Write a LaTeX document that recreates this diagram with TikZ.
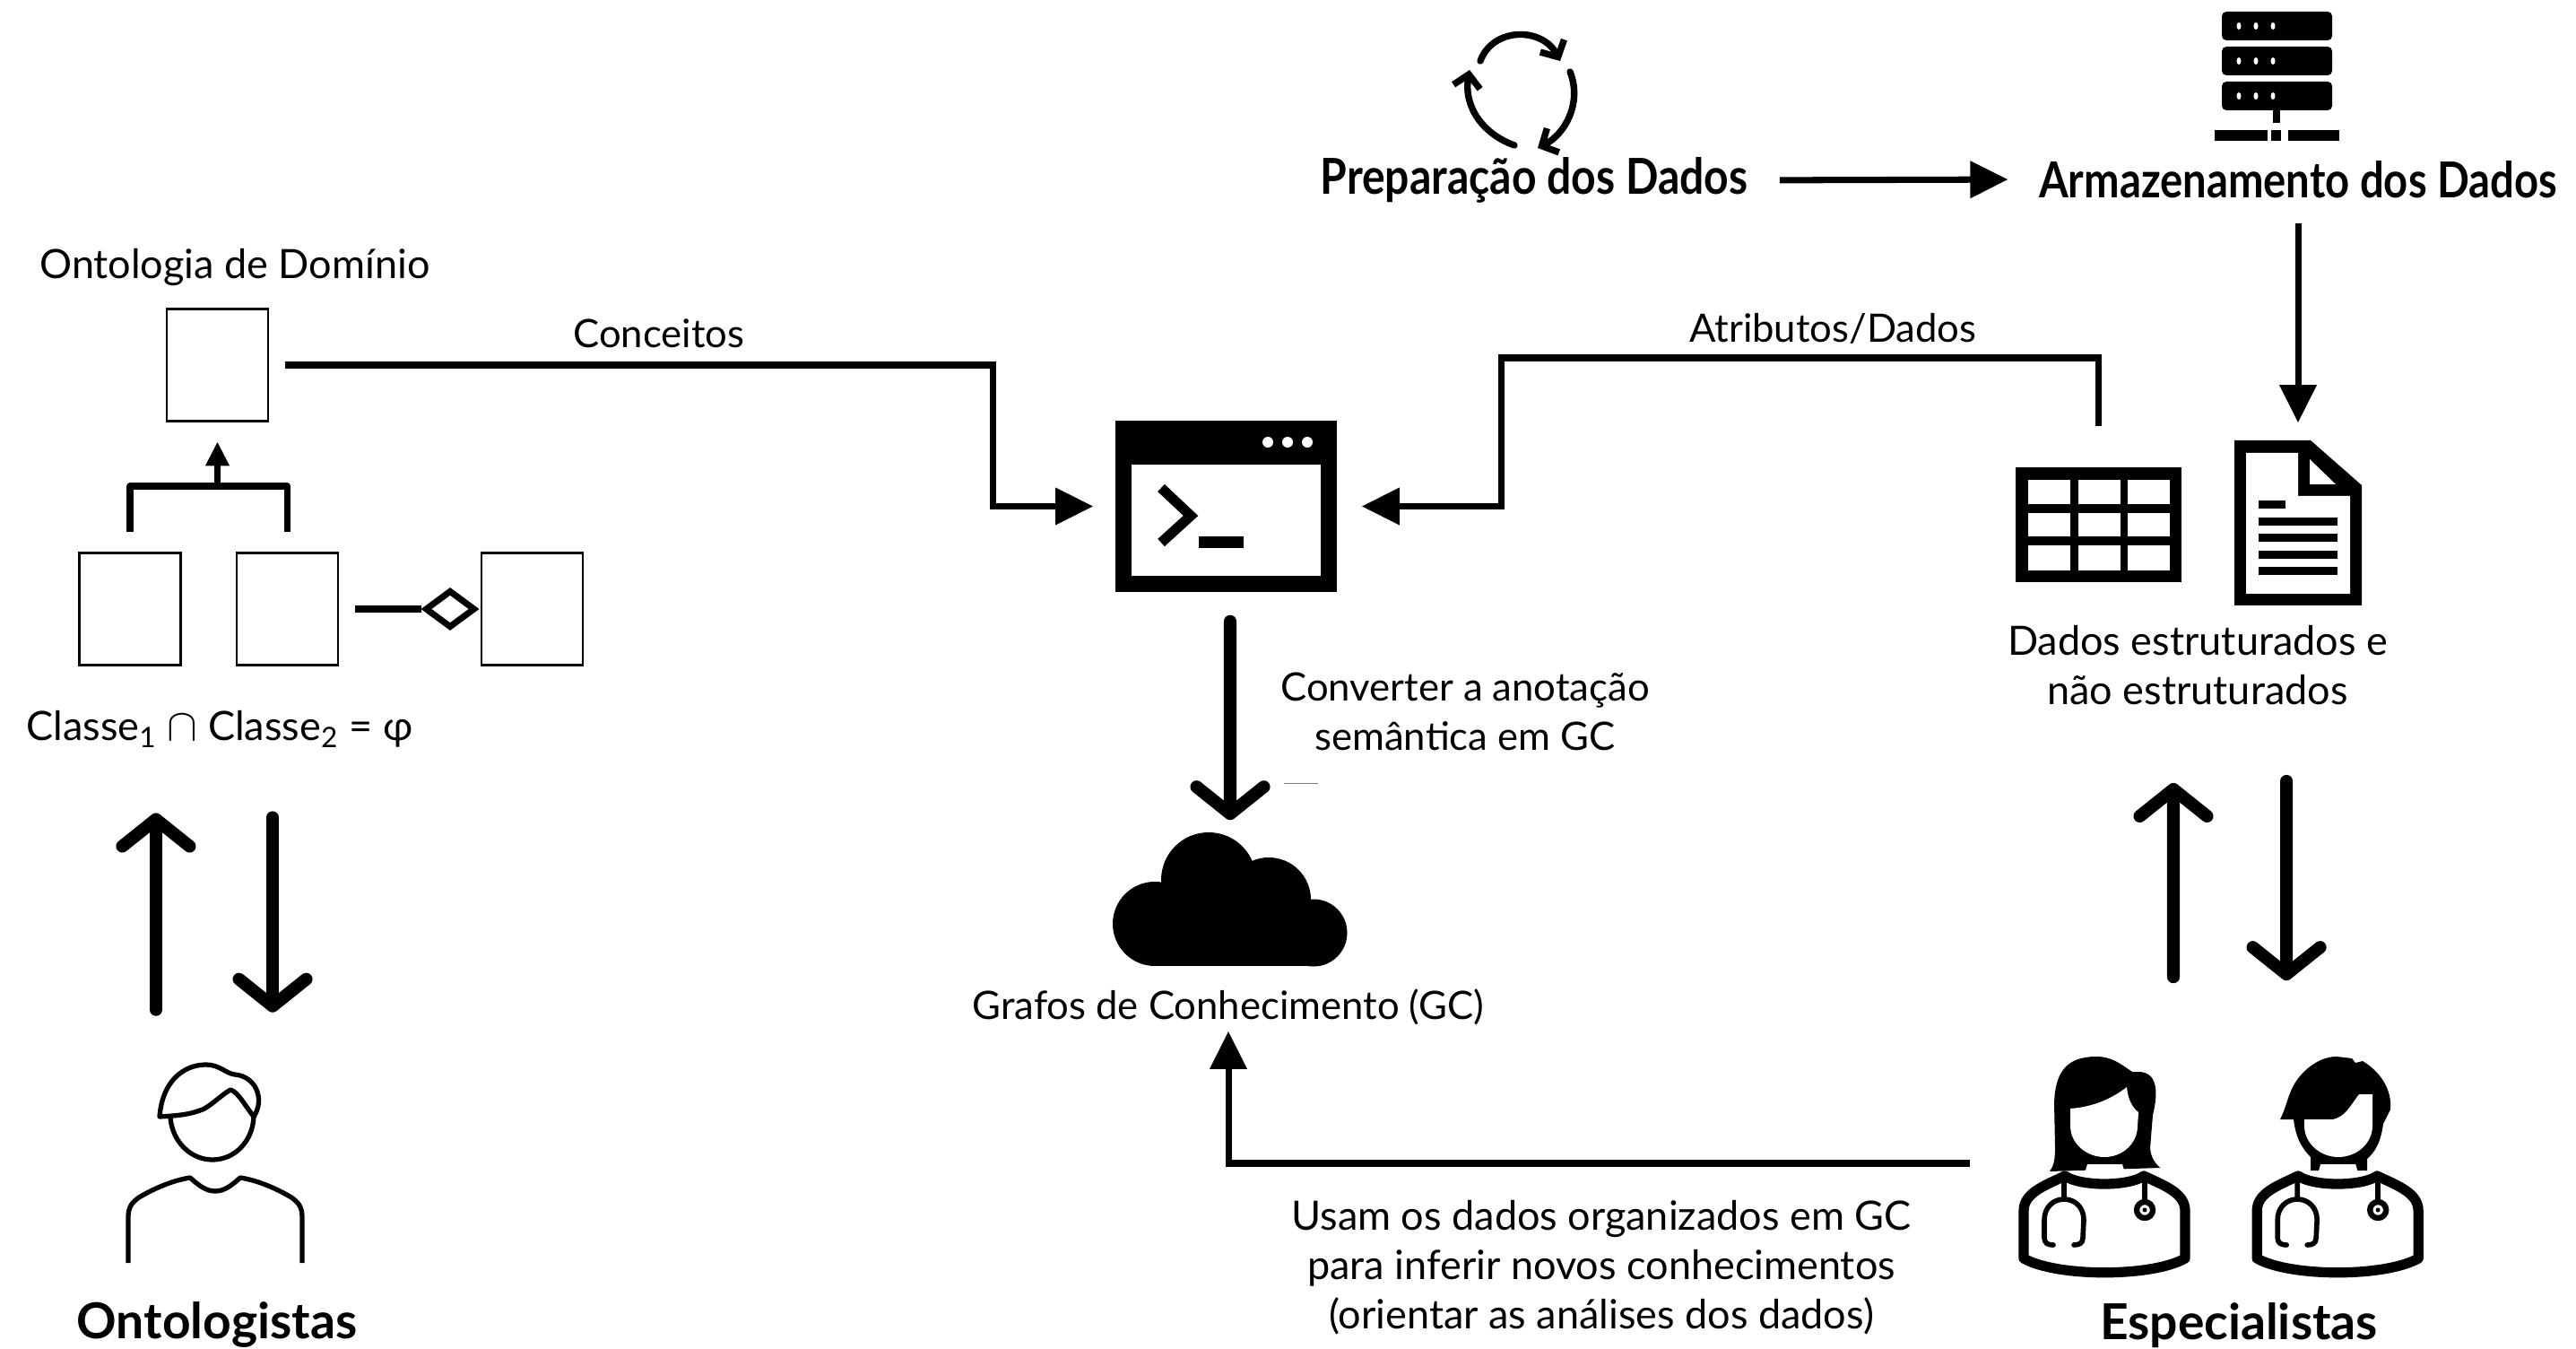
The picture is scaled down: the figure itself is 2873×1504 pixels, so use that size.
\documentclass[tikz,border=0pt]{standalone}
\usepackage{fontspec}
\setmainfont{Lato}
\usetikzlibrary{shapes.geometric,arrows.meta,positioning}
\tikzstyle{classbox}  = [rectangle, draw, line width=.75, minimum width=1.13cm, minimum height=1.25cm, inner sep=0]
\tikzstyle{iconbox}   = [rectangle, inner sep=0]
\tikzstyle{label}     = [inner sep=0, align=center, font=\fontsize{12.8}{15.6}\selectfont]
\tikzstyle{smalllabel}= [inner sep=0, align=center, font=\fontsize{12.4}{15.6}\selectfont]
\tikzstyle{title}     = [inner sep=0, font=\fontsize{15.7}{18}\selectfont\bfseries]
\tikzstyle{line}      = [draw, line width=2, -{Triangle[length=.42cm, width=.4cm]}]
\tikzstyle{bigline}   = [draw, line width=4, line cap=round, -{Straight Barb[length=.3cm, width=.75cm, round]}]
\tikzstyle{cycleline} = [draw, line width=2.1, line cap=round, -{Straight Barb[length=.14cm, width=.3cm]}]
\newcommand{\docbody}[1]{%
  \begin{scope}[xshift=#1]
    \fill[white] (2328,1298) -- (2367,1298) -- (2372,1315) -- (2323,1315) -- cycle;
    \draw[fill=white, line width=3.2, line join=round] (2257,1403) -- (2257,1350)
      .. controls (2257,1330) and (2280,1322) .. (2303,1311)
      .. controls (2320,1323) and (2374,1323) .. (2391,1311)
      .. controls (2414,1322) and (2437,1330) .. (2437,1350) -- (2437,1403)
      .. controls (2400,1424) and (2294,1424) .. cycle;
    \draw[line width=1.6, line cap=round] (2302,1318) -- (2302,1337)
      .. controls (2290,1337) and (2280,1346) .. (2280,1360) -- (2280,1380)
      .. controls (2280,1386) and (2284,1388) .. (2290,1388);
    \draw[line width=1.6, line cap=round] (2302,1337)
      .. controls (2314,1337) and (2324,1346) .. (2324,1360) -- (2323,1380)
      .. controls (2323,1386) and (2319,1388) .. (2313,1388);
    \draw[line width=1.6] (2392,1316) -- (2392,1338);
    \draw[fill=white, line width=1.8] (2392,1349) circle (9);
    \fill (2392,1349) circle (2.5);
  \end{scope}}
\begin{document}
\begin{tikzpicture}[x=.01cm, y=-.01cm]
  \useasboundingbox (0,0) rectangle (2873,1504);

  % ontologia
  \node [label] (titulo) at (262,298) {Ontologia de Domínio};
  \node [classbox] (dominio) at (242.5,407) {};
  \node [classbox] (classea) at (145,679) {};
  \node [classbox] (classeb) at (320.5,679) {};
  \node [classbox] (classec) at (593.5,679) {};
  \node [diamond, draw, line width=2, aspect=1.2, minimum width=.56cm, minimum height=.42cm, inner sep=0] (agrega) at (502,679) {};
  \node [label] (classes) at (245,813) {Classe\textsubscript{1} {\Large$\cap$} Classe\textsubscript{2} = φ};
  \node [iconbox, minimum width=1.94cm, minimum height=2.21cm] (ontologo) at (245,1297) {};
  \node [title] (ontologistas) at (242,1477) {Ontologistas};
  \coordinate (junta) at (242.5,542);

  % icone do ontologista
  \begin{scope}[line width=1.5, line join=round]
    \draw (178,1245) .. controls (181,1205) and (205,1187) .. (230,1187) .. controls (245,1187) and (252,1197) .. (262,1198)
      .. controls (285,1200) and (296,1225) .. (283,1245) .. controls (273,1232) and (265,1217) .. (257,1215)
      .. controls (245,1222) and (232,1236) .. (223,1238) .. controls (210,1243) and (195,1244) .. cycle;
    \draw (190,1246) .. controls (192,1272) and (212,1293) .. (237,1293) .. controls (262,1293) and (282,1272) .. (283,1245);
    \draw (143,1408) -- (143,1357) .. controls (143,1345) and (148,1340) .. (155,1335)
      .. controls (170,1326) and (192,1316) .. (212,1313) .. controls (222,1322) and (230,1328) .. (240,1328)
      .. controls (250,1328) and (258,1322) .. (268,1313) .. controls (288,1316) and (310,1326) .. (325,1335)
      .. controls (332,1340) and (337,1345) .. (337,1357) -- (337,1408);
  \end{scope}

  % dados
  \node [title, xscale=.87] (preparacao) at (1711,201) {Preparação dos Dados};
  \node [title, xscale=.855] (armazenamento) at (2563,200) {Armazenamento dos Dados};
  \node [iconbox, minimum width=1.42cm, minimum height=1.84cm] (documento) at (2563,583) {};
  \node [iconbox, minimum width=1.85cm, minimum height=1.28cm] (tabela) at (2340.5,585) {};
  \node [label] (estruturados) at (2451,742) {Dados estruturados e\\não estruturados};
  \node [iconbox, minimum width=4.4cm, minimum height=2.4cm] (medicos) at (2470,1297) {};
  \node [title] (especialistas) at (2497,1478) {Especialistas};

  % ciclo
  \path [cycleline] (1651,68) .. controls (1665,30) and (1720,30) .. (1740,68);
  \path [cycleline] (1751,80) .. controls (1765,115) and (1745,150) .. (1715,165);
  \path [cycleline] (1689,162) .. controls (1655,150) and (1632,120) .. (1639,78);

  % servidor
  \foreach \y/\h in {13/32, 52/32, 91/32} {
    \fill[rounded corners=.05cm] (2478,\y) rectangle ++(123,\h);
    \foreach \x in {2497,2516,2535}
      \fill[white] (\x,\y+16) ellipse (2.5 and 4);
  }
  \fill (2535,122) rectangle (2543,137);
  \fill (2470,145) rectangle (2529,157);
  \fill (2533,145) rectangle (2544,157);
  \fill (2552,145) rectangle (2609,157);

  % tabela
  \fill (2248,521) rectangle (2433,649);
  \foreach \y/\h in {535/27, 572/26, 608/28} {
    \foreach \x in {2262,2318,2373}
      \fill[white] (\x,\y) rectangle ++(46.5,\h);
  }

  % documento
  \fill (2492,491) -- (2577,491) -- (2634,541) -- (2634,675) -- (2492,675) -- cycle;
  \fill[white] (2505,505) -- (2563,505) -- (2563,553) -- (2621,553) -- (2621,662) -- (2505,662) -- cycle;
  \fill[white] (2576,512) -- (2605,540) -- (2576,540) -- cycle;
  \fill (2519,558) rectangle (2549,567);
  \foreach \y in {577,595,614,632}
    \fill (2519,\y) rectangle (2607,\y+9);

  % terminal
  \node [iconbox, fill=black, minimum width=2.47cm, minimum height=1.91cm] (terminal) at (1367.5,564.5) {};
  \fill[white] (1262,518) rectangle (1473,642);
  \foreach \x in {1414,1436,1458}
    \fill[white] (\x,493) circle (6);
  \draw[line width=3.2] (1295,544) -- (1328,575) -- (1295,605);
  \fill (1337,598) rectangle (1387,611);

  % nuvem
  \node [iconbox, minimum width=2.62cm, minimum height=1.49cm] (nuvem) at (1372,1002.5) {};
  \fill (1348,981) circle (53) (1415,1003) circle (47) (1288,1030) circle (47) (1465,1040) circle (37.5);
  \fill (1288,1010) rectangle (1465,1077);
  \node [smalllabel] (grafos) at (1370,1123) {Grafos de Conhecimento (GC)};
  \draw [gray, line width=.25] (1432,873) -- (1470,873);

  % medicos
  \fill (2338,1178) .. controls (2305,1178) and (2292,1195) .. (2291,1230) -- (2292,1280) .. controls (2292,1295) and (2290,1300) .. (2286,1306)
    -- (2409,1302) .. controls (2402,1295) and (2399,1290) .. (2398,1280) -- (2401,1243) .. controls (2408,1215) and (2405,1195) .. (2385,1195)
    -- (2378,1195) .. controls (2365,1186) and (2355,1178) .. cycle;
  \fill[white] (2309,1236) .. controls (2335,1234) and (2355,1225) .. (2372,1212) .. controls (2373,1225) and (2378,1235) .. (2385,1240)
    -- (2384,1255) .. controls (2384,1275) and (2367,1290) .. (2347,1290) .. controls (2327,1290) and (2309,1275) .. (2309,1255) -- cycle;
  \docbody{0}
  \fill (2543,1248) .. controls (2552,1230) and (2552,1215) .. (2565,1200) .. controls (2575,1188) and (2590,1178) .. (2606,1178)
    -- (2623,1180) -- (2627,1185) -- (2635,1183) .. controls (2655,1195) and (2668,1215) .. (2666,1237) -- (2658,1253)
    .. controls (2655,1275) and (2648,1285) .. (2640,1292) -- (2640,1305) -- (2577,1305) -- (2577,1290) .. controls (2565,1278) and (2560,1265) .. (2558,1248) -- cycle;
  \fill[white] (2570,1248) -- (2602,1248) .. controls (2615,1245) and (2620,1235) .. (2631,1220) -- (2646,1220) -- (2646,1255)
    .. controls (2646,1275) and (2628,1290) .. (2608,1290) .. controls (2588,1290) and (2570,1275) .. (2570,1255) -- cycle;
  \docbody{2.6cm}

  % setas
  \path [line] (preparacao.east) [shorten <=.35cm, shorten >=.34cm] -- (armazenamento.west);
  \path [line] (armazenamento.south) [shorten <=.28cm, shorten >=.19cm] -- (documento.north);
  \coordinate (elbowdir) at (1674,399);
  \coordinate (elbowesq) at (1107,407);
  \node [smalllabel, above=.15cm of elbowdir, xshift=3.7cm] (atributos) {Atributos/Dados};
  \node [smalllabel, above=.18cm of elbowesq, xshift=-3.72cm] (conceitos) {Conceitos};
  \path [line] (tabela.north) [shorten <=.45cm, shorten >=.27cm] |- (elbowdir) |- (terminal.east);
  \path [line] (dominio.east) [shorten <=.18cm, shorten >=.24cm] -- (elbowesq) |- (terminal.west);
  \path [line] (medicos.west) [shorten <=.52cm, shorten >=.06cm] -| (grafos.south);
  \draw [line width=2, -{Triangle[length=.27cm, width=.25cm]}, shorten >=.215cm] (junta) -- (dominio.south);
  \draw [line width=2, line join=round, shorten <=.22cm, shorten >=.22cm] (classea.north) |- (junta) -| (classeb.north);
  \draw [line width=2, shorten <=.18cm] (classeb.east) -- (agrega.west);

  \path [bigline, shorten >=.13cm] ([xshift=.045cm]terminal.south) [shorten <=.32cm] -- (nuvem.north);
  \path [bigline] ([xshift=-.71cm]ontologo.north) [shorten <=.6cm, shorten >=.72cm] -- ([xshift=-.71cm]classes.south);
  \path [bigline] ([xshift=.59cm]classes.south) [shorten <=.77cm, shorten >=.57cm] -- ([xshift=.59cm]ontologo.north);
  \path [bigline] ([xshift=-.46cm]medicos.north) [shorten <=.87cm, shorten >=.86cm] -- ([xshift=-.27cm]estruturados.south);
  \path [bigline] ([xshift=.99cm]estruturados.south) [shorten <=.84cm, shorten >=.83cm] -- ([xshift=.8cm]medicos.north);

  \node [smalllabel] (converter) at (1634,793) {Converter a anotação\\semântica em GC};
  \node [label] (usam) at (1786,1413) {Usam os dados organizados em GC\\para inferir novos conhecimentos\\(orientar as análises dos dados)};
\end{tikzpicture}
\end{document}
